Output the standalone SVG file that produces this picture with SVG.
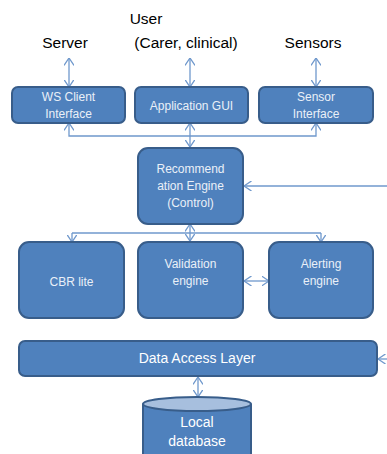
<svg xmlns="http://www.w3.org/2000/svg" width="387" height="454" viewBox="0 0 387 454">
<defs>
<style>
.box{fill:#4F81BD;stroke:#385D8A;stroke-width:2}
.t{font-family:"Liberation Sans",Arial,sans-serif;font-size:12px;fill:#EAF0F8;text-anchor:middle}
.big{font-family:"Liberation Sans",Arial,sans-serif;font-size:15.5px;fill:#000;text-anchor:middle}
.bold{font-family:"Liberation Sans",Arial,sans-serif;font-size:14px;fill:#FFFFFF;text-anchor:middle}
.c{fill:none;stroke:#6F98CC;stroke-width:1.3}
</style>
<marker id="a" viewBox="0 0 8 10" refX="7.5" refY="5" markerWidth="8" markerHeight="10" markerUnits="userSpaceOnUse" orient="auto-start-reverse">
<path d="M0,0 L7.5,5 L0,10" fill="none" stroke="#6F98CC" stroke-width="1.3"/>
</marker>
</defs>
<rect width="387" height="454" fill="#FFFFFF"/>
<g id="labels">
<text class="big" x="65" y="48">Server</text>
<text class="big" x="146" y="24">User</text>
<text class="big" x="186" y="48">(Carer, clinical)</text>
<text class="big" x="313" y="48">Sensors</text>
</g>
<g id="connectors">
<line class="c" x1="69" y1="58" x2="69" y2="87" marker-start="url(#a)" marker-end="url(#a)"/>
<line class="c" x1="190" y1="58" x2="190" y2="87" marker-start="url(#a)" marker-end="url(#a)"/>
<line class="c" x1="316" y1="58" x2="316" y2="87" marker-start="url(#a)" marker-end="url(#a)"/>
<path class="c" d="M69,123 V136 H316 V123" marker-start="url(#a)" marker-end="url(#a)"/>
<line class="c" x1="190" y1="123" x2="190" y2="147" marker-start="url(#a)" marker-end="url(#a)"/>
<line class="c" x1="387" y1="186" x2="244" y2="186" marker-end="url(#a)"/>
<line class="c" x1="190" y1="224" x2="190" y2="241" marker-start="url(#a)" marker-end="url(#a)"/>
<path class="c" d="M72,233 H321"/>
<line class="c" x1="72" y1="233" x2="72" y2="242" marker-end="url(#a)"/>
<line class="c" x1="321" y1="233" x2="321" y2="242" marker-end="url(#a)"/>
<line class="c" x1="244" y1="281" x2="269" y2="281" marker-start="url(#a)" marker-end="url(#a)"/>
<line class="c" x1="387" y1="359" x2="378" y2="359" marker-end="url(#a)"/>
<line class="c" x1="198" y1="377" x2="198" y2="397" marker-start="url(#a)" marker-end="url(#a)"/>
</g>
<g id="ws-client">
<rect class="box" x="12" y="87" width="113" height="36" rx="6"/>
<text class="t" x="68.5" y="101">WS Client</text>
<text class="t" x="68.5" y="118">Interface</text>
</g>
<g id="app-gui">
<rect class="box" x="135" y="87" width="113" height="36" rx="6"/>
<text class="t" x="191.5" y="110">Application GUI</text>
</g>
<g id="sensor-interface">
<rect class="box" x="259" y="87" width="114" height="36" rx="6"/>
<text class="t" x="316" y="101">Sensor</text>
<text class="t" x="316" y="118">Interface</text>
</g>
<g id="recommendation">
<rect class="box" x="138" y="148" width="105" height="76" rx="10"/>
<text class="t" x="190.5" y="173">Recommend</text>
<text class="t" x="190.5" y="190">ation Engine</text>
<text class="t" x="190.5" y="207">(Control)</text>
</g>
<g id="cbr">
<rect class="box" x="19" y="242" width="105" height="76" rx="10"/>
<text class="t" x="71.5" y="286">CBR lite</text>
</g>
<g id="validation">
<rect class="box" x="138" y="242" width="105" height="76" rx="10"/>
<text class="t" x="190.5" y="268">Validation</text>
<text class="t" x="190.5" y="285">engine</text>
</g>
<g id="alerting">
<rect class="box" x="269" y="242" width="104" height="76" rx="10"/>
<text class="t" x="321" y="268">Alerting</text>
<text class="t" x="321" y="285">engine</text>
</g>
<g id="data-access-layer">
<rect class="box" x="19" y="341" width="358" height="35" rx="6"/>
<text class="bold" x="197" y="363">Data Access Layer</text>
</g>
<g id="local-database">
<path d="M143,404 V460 H251 V404" fill="#4F81BD" stroke="#385D8A" stroke-width="2"/>
<ellipse cx="197" cy="404" rx="54" ry="7" fill="#A7BFDE" stroke="#385D8A" stroke-width="2"/>
<text class="bold" x="197" y="427" font-size="15">Local</text>
<text class="bold" x="197" y="446" font-size="15">database</text>
</g>
</svg>
